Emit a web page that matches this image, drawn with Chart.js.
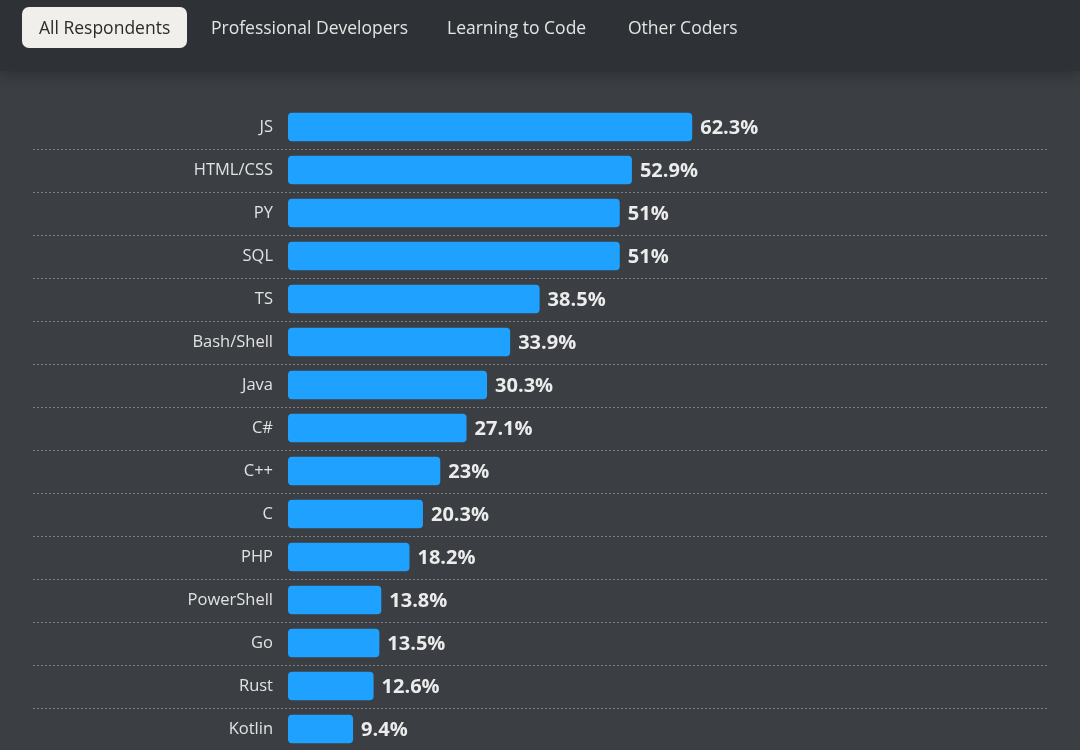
<!DOCTYPE html>
<html>
<head>
<meta charset="utf-8">
<script src="https://cdn.jsdelivr.net/npm/chart.js@4"></script>
<style>
    html, body {
        margin: 0;
        padding: 0;
        width: 1080px;
        height: 750px;
        overflow: hidden;
        background: #3b3f43;
        font-family: "Open Sans", "Noto Sans", sans-serif;
    }

    .tabs {
        position: absolute;
        left: 0;
        top: 0;
        width: 1080px;
        height: 71px;
        background: #2e3135;
        box-shadow: 0 3px 14px rgba(0, 0, 0, 0.28);
        z-index: 2;
    }

    .tab {
        position: absolute;
        top: 7px;
        height: 41px;
        line-height: 40px;
        font-size: 17.5px;
        color: #e4e4e4;
        white-space: nowrap;
    }

    .tab.active {
        background: #f1efec;
        color: #2b2b2b;
        border-radius: 7px;
        padding: 0 17px;
    }

    #lang-chart {
        position: absolute;
        left: 0;
        top: 70px;
        display: block;
    }
</style>
</head>
<body>
<div class="tabs">
    <div class="tab active" style="left: 22px;">All Respondents</div>
    <div class="tab" style="left: 211px;">Professional Developers</div>
    <div class="tab" style="left: 447px;">Learning to Code</div>
    <div class="tab" style="left: 628px;">Other Coders</div>
</div>
<canvas id="lang-chart" width="1080" height="700"></canvas>
<script>
const languages = ["JS", "HTML/CSS", "PY", "SQL", "TS", "Bash/Shell", "Java", "C#",
    "C++", "C", "PHP", "PowerShell", "Go", "Rust", "Kotlin"];
const usage = [62.3, 52.9, 51, 51, 38.5, 33.9, 30.3, 27.1, 23, 20.3, 18.2, 13.8, 13.5, 12.6, 9.4];

const X_MIN = -0.75;
const X_MAX = 117.8;

const chart_el = document.getElementById("lang-chart");

// dotted separators between rows, running under the labels too
const row_lines = {
    id: "row_lines",
    beforeDatasetsDraw(chart) {
        const ctx = chart.ctx;
        const y_scale = chart.scales.y;
        ctx.save();
        ctx.strokeStyle = "rgba(150, 153, 156, 0.7)";
        ctx.lineWidth = 1;
        ctx.setLineDash([2, 2]);
        for (let i = 0; i < languages.length - 1; i++) {
            let y = Math.round((y_scale.getPixelForValue(i) + y_scale.getPixelForValue(i + 1)) / 2) + 0.5;
            ctx.beginPath();
            ctx.moveTo(33, y);
            ctx.lineTo(chart.chartArea.right, y);
            ctx.stroke();
        }
        ctx.restore();
    }
};

// percentage text after each bar
const value_labels = {
    id: "value_labels",
    afterDatasetsDraw(chart) {
        const ctx = chart.ctx;
        const meta = chart.getDatasetMeta(0);
        ctx.save();
        ctx.font = "bold 20px 'Open Sans', sans-serif";
        ctx.fillStyle = "#ececec";
        ctx.textAlign = "left";
        ctx.textBaseline = "middle";
        meta.data.forEach((bar, i) => {
            ctx.fillText(`${usage[i]}%`, bar.x + 8, bar.y + 1);
        });
        ctx.restore();
    }
};

new Chart(chart_el, {
    type: "bar",
    data: {
        labels: languages,
        datasets: [{
            data: usage,
            base: X_MIN,
            backgroundColor: "#1ea1ff",
            borderRadius: 4,
            borderSkipped: false,
            barPercentage: 0.66,
            categoryPercentage: 1
        }]
    },
    options: {
        indexAxis: "y",
        responsive: false,
        animation: false,
        layout: {
            padding: { left: 0, right: 32, top: 35.5, bottom: 19.5 }
        },
        plugins: {
            legend: { display: false },
            tooltip: { enabled: false }
        },
        scales: {
            x: {
                display: false,
                min: X_MIN,
                max: X_MAX
            },
            y: {
                afterFit(scale) {
                    scale.width = 288;
                    // labels sit mid-row, so no extra room needed above/below
                    scale.paddingTop = 0;
                    scale.paddingBottom = 0;
                },
                grid: { display: false, drawTicks: false },
                border: { display: false },
                ticks: {
                    padding: 15,
                    color: "#e2e2e2",
                    font: { family: "'Open Sans', sans-serif", size: 16.5 }
                }
            }
        }
    },
    plugins: [row_lines, value_labels]
});
</script>
</body>
</html>
